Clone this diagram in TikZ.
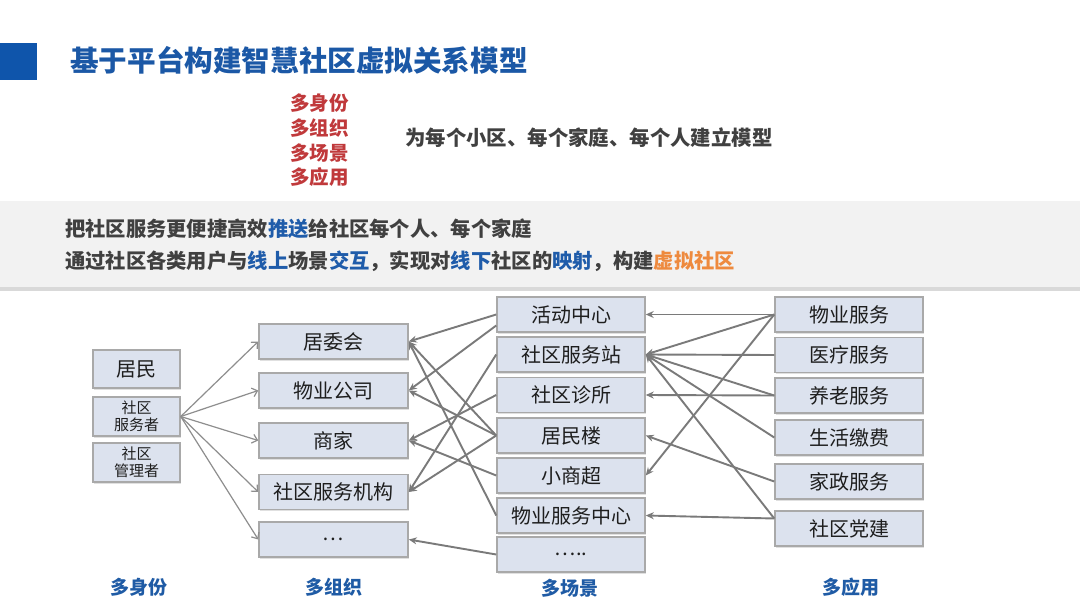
\documentclass[tikz,border=0pt]{standalone}
\usepackage{fontspec}
\setmainfont{Noto Sans CJK SC}
\usetikzlibrary{arrows.meta,calc,shadows}
\definecolor{titleblue}{HTML}{1B58A6}
\definecolor{sqblue}{HTML}{0F55AB}
\definecolor{redc}{HTML}{C0393B}
\definecolor{darkt}{HTML}{404040}
\definecolor{hlblue}{HTML}{1F5CAA}
\definecolor{hlorange}{HTML}{EE8A3E}
\definecolor{bandc}{HTML}{F2F2F2}
\definecolor{boxfill}{HTML}{DCE2EE}
\definecolor{boxline}{HTML}{A9A9A9}
\definecolor{boxtext}{HTML}{1E1E1E}
\definecolor{arrowc}{HTML}{7A7A7A}
\definecolor{lblblue}{HTML}{1F5BA5}
\tikzset{
  box/.style={draw=boxline, fill=boxfill, line width=1.5pt, inner sep=0pt,
    text=boxtext, font=\fontsize{20}{24}\selectfont,
    drop shadow={shadow xshift=1.2pt, shadow yshift=-1.5pt, fill=black, opacity=0.12}},
  orgbox/.style={box, minimum width=149pt, minimum height=35pt},
  scbox/.style={box, minimum width=148pt, minimum height=35pt},
  idbox/.style={box, minimum width=87pt, minimum height=38pt},
  conn/.style={draw=arrowc, line width=1.9pt, -{Stealth[length=8pt,width=7pt]}},
  lconn/.style={draw=arrowc!85, line width=1.2pt, -{Straight Barb[length=5pt,width=9pt]}},
  collabel/.style={text=lblblue, font=\fontsize{19}{22}\selectfont\bfseries, inner sep=0pt},
  redlabel/.style={text=redc, font=\fontsize{19.5}{22}\selectfont\bfseries, inner sep=0pt, anchor=west},
  bandtext/.style={text=darkt, font=\fontsize{20.3}{22}\selectfont\bfseries, inner sep=0pt, anchor=west}
}
\begin{document}
\begin{tikzpicture}[x=1pt,y=-1pt]
\useasboundingbox (0,0) rectangle (1080,608);
\fill[white] (0,0) rectangle (1080,608);
% header
\fill[sqblue] (0,43) rectangle (37,80);
\node[anchor=west, text=titleblue, font=\fontsize{28.6}{32}\selectfont\bfseries, inner sep=0pt] (title) at (70,60) {基于平台构建智慧社区虚拟关系模型};
\node[redlabel] (r1) at (290,103) {多身份};
\node[redlabel] (r2) at (290,128) {多组织};
\node[redlabel] (r3) at (290,153) {多场景};
\node[redlabel] (r4) at (290,177) {多应用};
\node[anchor=west, text=darkt, font=\fontsize{20.4}{22}\selectfont\bfseries, inner sep=0pt] (model) at (405,138) {为每个小区、每个家庭、每个人建立模型};
% band
\fill[black!15] (0,203) rectangle (1080,291);
\fill[bandc] (0,201) rectangle (1080,287);
\node[bandtext] (b1) at (65,229) {把社区服务更便捷高效\textcolor{hlblue}{推送}给社区每个人、每个家庭};
\node[bandtext] (b2) at (65,261) {通过社区各类用户与\textcolor{hlblue}{线上}场景\textcolor{hlblue}{交互}，实现对\textcolor{hlblue}{线下}社区的\textcolor{hlblue}{映射}，构建\textcolor{hlorange}{虚拟社区}};
% identities
\node[idbox] (jm) at (136.5,369) {居民};
\node[idbox, minimum height=39pt, align=center, font=\fontsize{15}{17}\selectfont] (fwzh) at (136.5,416.5) {社区\\服务者};
\node[idbox, minimum height=39pt, align=center, font=\fontsize{15}{17}\selectfont] (glz) at (136.5,462.5) {社区\\管理者};
% organisations
\node[orgbox] (jwh) at (333.5,341.5) {居委会};
\node[orgbox] (wygs) at (333.5,390.5) {物业公司};
\node[orgbox] (sj) at (333.5,440.5) {商家};
\node[orgbox] (jg) at (333.5,492) {社区服务机构};
\node[orgbox] (od) at (333.5,539.5) {…};
% scenes
\node[scbox] (hd) at (571,314.5) {活动中心};
\node[scbox] (fwz) at (571,354.5) {社区服务站};
\node[scbox] (zs) at (571,395) {社区诊所};
\node[scbox] (jml) at (571,435.5) {居民楼};
\node[scbox] (xcs) at (571,475.5) {小商超};
\node[scbox] (wyzx) at (571,515.5) {物业服务中心};
\node[scbox] (sd) at (571,554.5) {…..};
% applications
\node[scbox] (wyfw) at (849,314.5) {物业服务};
\node[scbox] (ylfw) at (849,355) {医疗服务};
\node[scbox] (yl) at (849,395.5) {养老服务};
\node[scbox] (shjf) at (849,437.5) {生活缴费};
\node[scbox] (jz) at (849,481.5) {家政服务};
\node[scbox] (dj) at (849,528.5) {社区党建};
% column labels
\node[collabel] (l1) at (139,587) {多身份};
\node[collabel] (l2) at (334,587) {多组织};
\node[collabel] (l3) at (570,588) {多场景};
\node[collabel] (l4) at (851,587) {多应用};
% identity -> organisation
\foreach \t in {jwh,wygs,sj,jg,od}
  \draw[lconn] (fwzh.east) -- (\t.west);
% scene -> organisation
\draw[conn] (hd.west) -- (jwh.east);
\draw[conn] ($(hd.west)+(0,11)$) -- (wygs.east);
\draw[conn] (fwz.west) -- (jg.east);
\draw[conn] (zs.west) -- (sj.east);
\draw[conn] (jml.west) -- (jwh.east);
\draw[conn] (jml.west) -- (wygs.east);
\draw[conn] (jml.west) -- (jg.east);
\draw[conn] (xcs.west) -- (sj.east);
\draw[conn] (wyzx.west) -- (jwh.east);
\draw[conn] (sd.west) -- (od.east);
% application -> scene
\draw[conn] (wyfw.west) -- (hd.east);
\draw[conn] (wyfw.west) -- (fwz.east);
\draw[conn] (wyfw.west) -- (xcs.east);
\draw[conn] (ylfw.west) -- (fwz.east);
\draw[conn] (yl.west) -- (zs.east);
\draw[conn] (yl.west) -- (fwz.east);
\draw[conn] (shjf.west) -- (fwz.east);
\draw[conn] (jz.west) -- (jml.east);
\draw[conn] ($(dj.west)+(0,-10)$) -- (wyzx.east);
\draw[conn] ($(dj.west)+(0,-10)$) -- (fwz.east);
\end{tikzpicture}
\end{document}
